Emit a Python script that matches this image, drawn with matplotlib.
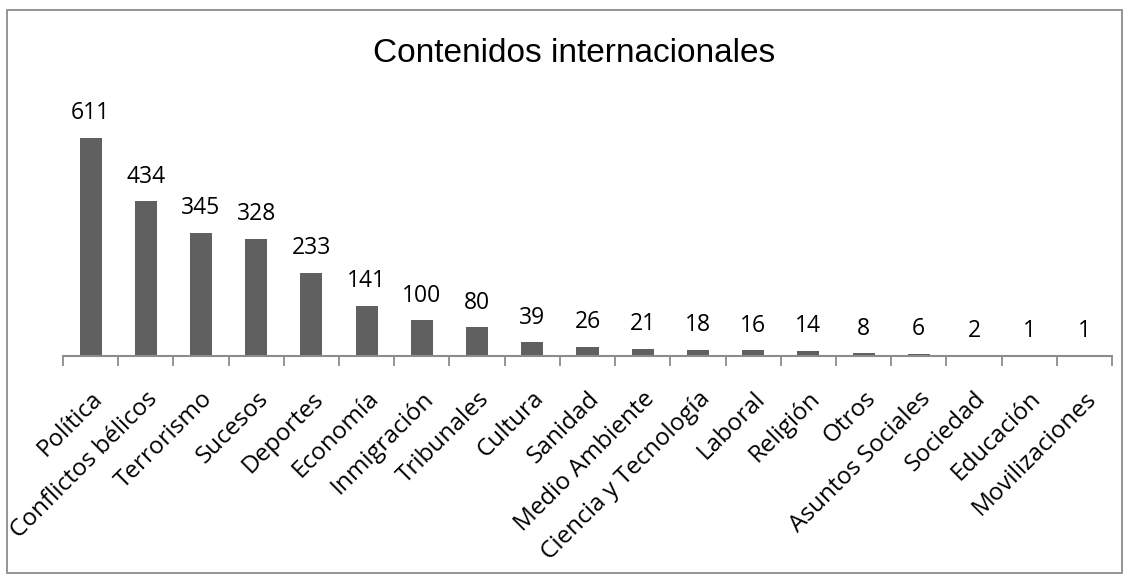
import matplotlib
matplotlib.use("Agg")
import matplotlib.pyplot as plt
from matplotlib.patches import Rectangle

categories = ["Política", "Conflictos bélicos", "Terrorismo", "Sucesos", "Deportes",
              "Economía", "Inmigración", "Tribunales", "Cultura", "Sanidad",
              "Medio Ambiente", "Ciencia y Tecnología", "Laboral", "Religión", "Otros",
              "Asuntos Sociales", "Sociedad", "Educación", "Movilizaciones"]
values = [611, 434, 345, 328, 233, 141, 100, 80, 39, 26, 21, 18, 16, 14, 8, 6, 2, 1, 1]
title = "Contenidos internacionales"

plt.rcParams['font.family'] = ['Open Sans', 'DejaVu Sans']

W, H = 1129, 583
fig = plt.figure(figsize=(W / 100, H / 100), dpi=100)
fig.patch.set_facecolor("white")

# outer border
fig.add_artist(Rectangle((7 / W, 10 / H), (1122 - 7) / W, (573 - 10) / H,
                         transform=fig.transFigure, fill=False,
                         edgecolor="#8c8c8c", linewidth=1.3))

ax = fig.add_axes([63 / W, (H - 356) / H, (1112 - 63) / W, (356 - 106) / H])
x = list(range(len(categories)))
ax.bar(x, values, width=0.4, color="#606060", zorder=2)
ax.set_xlim(-0.5, len(categories) - 0.5)
ax.set_ylim(0, 700)

for xi, v in zip(x, values):
    ax.annotate(str(v), (xi, v), xytext=(0, 9), textcoords="offset points",
                ha="center", va="bottom", fontsize=16.5, color="black")

for s in ["top", "right", "left"]:
    ax.spines[s].set_visible(False)
ax.spines["bottom"].set_color("#8c8c8c")
ax.spines["bottom"].set_linewidth(1.5)
ax.set_yticks([])

ax.set_xticks([i - 0.5 for i in range(len(categories) + 1)], minor=False)
ax.set_xticklabels([])
ax.tick_params(axis="x", which="major", length=7, width=1.3, color="#8c8c8c",
               direction="out")
ax.set_xticks(x, minor=True)
ax.set_xticklabels(categories, minor=True, rotation=45, ha="right", va="top",
                   rotation_mode="anchor", fontsize=17.5)
ax.tick_params(axis="x", which="minor", length=0, pad=22)

fig.text(574 / W, 1 - 54 / H, title, ha="center", va="center", fontsize=24,
         fontfamily=["Liberation Sans Narrow", "Liberation Sans", "DejaVu Sans"])

fig.savefig("out.png", dpi=100)
